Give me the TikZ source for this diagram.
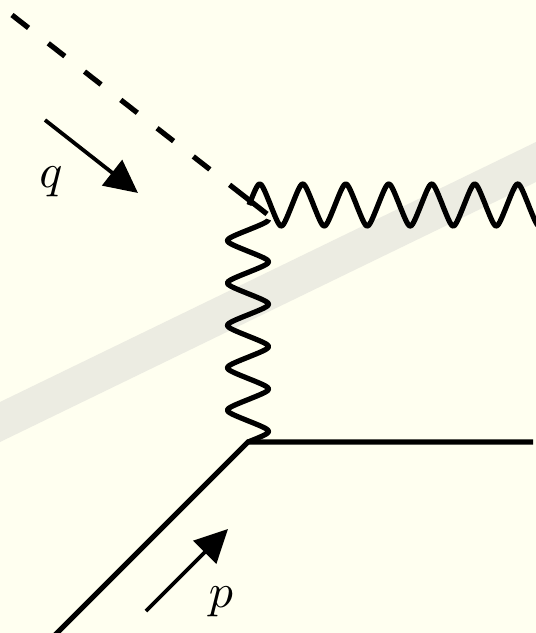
\documentclass[tikz,border=0pt]{standalone}
\usetikzlibrary{arrows.meta}
\definecolor{bgcol}{RGB}{255,255,240}
\definecolor{bandcol}{RGB}{236,236,226}
\begin{document}
\begin{tikzpicture}[x=1pt,y=-1pt,
  thick line/.style={line width=5.2pt},
  wave/.style={line width=5.2pt, line join=round},
  scalar/.style={line width=5.2pt, dash pattern={on 21pt off 25pt on 21pt off 25pt on 21pt off 25pt on 21pt off 25pt on 21pt off 25pt on 21pt off 25pt on 48pt off 80pt}},
  momentum/.style={line width=3.8pt, -{Triangle[length=33pt,width=32pt]}},
  lbl/.style={inner sep=0pt, scale=4.8},
  declare function={tw(\t)=asin(0.88*sin(360*\t))/asin(0.88);}]
\useasboundingbox (0,0) rectangle (536,633);
\fill[bgcol] (0,0) rectangle (536,633);
\fill[bandcol] (0,402) -- (536,142) -- (536,182) -- (0,442) -- cycle;

\coordinate (V1) at (249,205);
\coordinate (V2) at (248,442);
\coordinate (D0) at (12,15);
\coordinate (D1) at (267,214);
\coordinate (F0) at (47,643);
\coordinate (F1) at (533,442);
\coordinate (QA) at (45,120);
\coordinate (QB) at (138,193);
\coordinate (PA) at (146,611);
\coordinate (PB) at (228,529);

\node[lbl] (q) at (51,182) {$q$};
\node[lbl] (p) at (221,602) {$p$};

% dashed scalar line
\draw[scalar] (D0) -- (D1);

% vertical photon from V2 upwards
\begin{scope}[shift={(V2)}]
  \draw[wave] plot[domain=0:5.25, samples=260] ({20.5*tw(\x)}, {-42.4*\x});
\end{scope}

% horizontal photon from V1 to the right
\begin{scope}[shift={(V1)}]
  \draw[wave] plot[domain=0:6.8, samples=330] ({43*\x}, {-21*tw(\x)});
\end{scope}

% fermion lines
\draw[thick line] (F0) -- (V2) -- (F1);

% momentum arrows
\draw[momentum] (QA) -- (QB);
\draw[momentum] (PA) -- (PB);
\end{tikzpicture}
\end{document}
